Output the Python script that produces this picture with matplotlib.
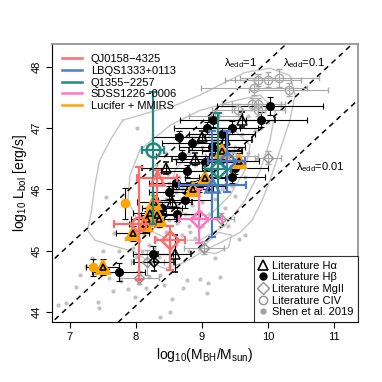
import matplotlib
matplotlib.use("Agg")
import matplotlib.pyplot as plt
import numpy as np
from matplotlib.lines import Line2D

plt.rcParams['font.family'] = ['Liberation Sans', 'DejaVu Sans']
plt.rcParams['mathtext.fontset'] = 'custom'
plt.rcParams['mathtext.rm'] = 'Liberation Sans'
plt.rcParams['mathtext.it'] = 'Liberation Sans:italic'

# ---- Shen et al. 2019 background sample ----
shen_x = [7.15, 6.95, 7.42, 7.65, 7.77, 7.88, 8.05, 8.15, 8.20, 8.36, 8.42, 7.98, 7.44, 8.36,
          8.77, 8.71, 8.55, 8.52, 8.97, 9.09, 9.27, 9.08, 9.56, 8.02, 7.55, 6.82, 7.33, 7.67,
          9.65, 9.20, 7.25, 7.10, 7.60, 7.50,
          7.95, 8.05, 8.10, 8.20, 8.30, 8.00, 8.10, 8.20, 8.35, 8.45, 8.50, 8.40, 8.30, 8.45,
          8.55, 8.60, 8.50, 8.65, 8.70, 8.75, 8.85, 8.90, 8.80, 8.70, 8.60, 8.90, 9.00, 9.10,
          9.00, 8.95, 9.10, 9.20, 9.30, 9.35, 9.20, 9.30, 9.10, 8.90, 8.80, 9.00, 9.20, 9.40,
          9.50, 9.60, 9.55, 9.65, 9.70, 9.80, 9.70, 9.90, 10.00, 9.60, 8.60, 8.40, 8.25, 7.85,
          7.75, 8.15, 8.00, 8.35, 8.55, 8.80, 9.40, 9.50, 9.85, 8.45, 8.30,
          8.12, 8.28, 8.38, 8.05, 7.92, 8.62, 8.48, 8.68, 8.95, 9.15, 9.25, 9.45, 9.05, 8.82]
shen_y = [44.60, 44.14, 44.16, 44.34, 44.50, 44.37, 44.47, 44.39, 44.57, 44.60, 44.44, 44.24,
          44.06, 43.91, 44.52, 44.39, 44.21, 44.00, 44.53, 44.47, 44.57, 44.31, 45.19, 47.01,
          45.87, 44.11, 44.88, 45.28, 45.25, 44.88, 44.75, 44.40, 44.55, 45.00,
          45.05, 45.15, 45.00, 45.10, 45.20, 45.35, 45.50, 45.30, 45.40, 45.30, 45.50, 45.60,
          45.75, 45.85, 45.70, 45.95, 46.10, 46.20, 46.00, 45.60, 45.75, 45.55, 45.40, 45.25,
          45.10, 45.20, 45.40, 45.60, 45.80, 46.10, 46.00, 45.85, 46.00, 45.70, 46.30, 46.50,
          46.50, 46.40, 46.60, 46.70, 46.80, 46.90, 46.70, 46.90, 46.40, 46.20, 46.60, 46.95,
          47.20, 47.00, 47.10, 47.30, 46.50, 46.10, 45.95, 45.20, 45.00, 45.70, 44.90, 44.90,
          44.85, 45.00, 45.40, 45.90, 46.50, 46.60, 46.40,
          45.25, 45.05, 45.55, 45.60, 45.45, 45.45, 46.25, 45.85, 45.95, 46.20, 45.55, 46.05,
          46.25, 45.30]

# density contours of the Shen sample
cont_outer_x = [7.80, 7.61, 7.45, 7.38, 7.33, 7.27, 7.38, 7.68, 7.98, 8.21, 8.44, 8.74, 9.05,
                9.35, 9.58, 9.76, 9.91, 10.03, 10.18, 10.33, 10.41, 10.33, 10.03, 9.65, 9.35,
                8.97, 8.59, 8.21, 7.80]
cont_outer_y = [47.13, 46.80, 46.47, 46.07, 45.66, 45.33, 45.17, 45.07, 44.98, 44.81, 44.71,
                44.81, 45.01, 45.17, 45.30, 45.50, 45.82, 46.15, 46.64, 47.13, 47.54, 47.86,
                47.98, 47.91, 47.75, 47.54, 47.37, 47.26, 47.13]
cont_mid_x = [8.06, 7.91, 7.88, 8.06, 8.52, 8.97, 9.35, 9.65, 9.88, 10.03, 10.11, 9.88, 9.50,
              8.97, 8.52, 8.06]
cont_mid_y = [46.64, 46.23, 45.82, 45.41, 45.17, 45.17, 45.41, 45.82, 46.31, 46.80, 47.29,
              47.54, 47.45, 47.29, 47.05, 46.64]
cont_in_x = [8.59, 8.52, 8.74, 9.12, 9.42, 9.65, 9.73, 9.50, 9.12, 8.82, 8.59]
cont_in_y = [46.31, 45.90, 45.58, 45.58, 45.90, 46.31, 46.72, 46.96, 46.88, 46.64, 46.31]
cont_low_x = [8.95, 9.20, 9.40, 9.45, 9.25, 8.95]
cont_low_y = [45.00, 44.95, 45.05, 45.25, 45.30, 45.00]

# ---- literature measurements: x, y, xerr, yerr ----
hb_x = [10.03, 9.17, 9.89, 9.08, 9.45, 8.65, 8.85, 9.15, 8.70, 9.50, 9.45, 9.05, 8.78, 8.60,
        8.74, 8.62, 8.50, 8.40, 8.26, 7.74, 9.30, 8.95]
hb_y = [47.36, 47.14, 47.14, 47.00, 47.01, 46.85, 46.75, 46.70, 46.55, 46.35, 46.20, 46.45,
        46.30, 46.10, 45.82, 45.60, 45.95, 45.70, 44.95, 44.65, 46.90, 46.05]
hb_xerr = [0.80, 0.50, 0.70, 0.50, 0.40, 0.40, 0.45, 0.50, 0.40, 0.50, 0.50, 0.45, 0.40, 0.40,
           0.40, 0.35, 0.30, 0.30, 0.30, 0.40, 0.50, 0.40]
hb_yerr = [0.15, 0.12, 0.12, 0.10, 0.10, 0.10, 0.10, 0.10, 0.10, 0.10, 0.10, 0.10, 0.10, 0.10,
           0.12, 0.12, 0.10, 0.10, 0.12, 0.15, 0.10, 0.10]

ha_x = [9.60, 9.20, 8.90, 8.45, 9.35, 8.80, 8.59, 8.55, 9.00]
ha_y = [47.14, 46.65, 46.50, 46.35, 46.80, 46.00, 44.95, 45.80, 46.85]
ha_xerr = [0.50, 0.40, 0.35, 0.35, 0.40, 0.30, 0.25, 0.30, 0.40]
ha_yerr = [0.12, 0.10, 0.10, 0.10, 0.10, 0.10, 0.30, 0.10, 0.10]

mg_black_x = [8.27]
mg_black_y = [44.81]
mg_x = [8.17, 10.00, 9.29, 9.03, 8.05]
mg_y = [44.81, 46.52, 45.51, 45.05, 44.56]
mg_xerr = [0.25, 0.20, 0.20, 0.30, 0.30]
mg_yerr = [0.20, 0.10, 0.10, 0.10, 0.10]

civ_x = [9.85, 10.00, 10.17, 9.79, 10.31, 9.55, 9.75, 9.85, 9.85, 9.20, 9.45]
civ_y = [47.79, 47.79, 47.82, 47.66, 47.63, 47.30, 47.40, 47.40, 47.30, 47.20, 46.55]
civ_xerr = [0.50, 0.50, 0.60, 0.80, 0.60, 0.40, 0.45, 0.40, 0.40, 0.40, 0.40]
civ_yerr = [0.10, 0.12, 0.15, 0.12, 0.10, 0.10, 0.10, 0.10, 0.10, 0.10, 0.10]

# ---- this work ----
qj_x = [8.32, 8.05, 8.52]
qj_y = [46.19, 45.44, 45.17]
qj_xlo = [0.30, 0.38, 0.23]
qj_xhi = [0.30, 0.24, 0.22]
qj_ylo = [0.38, 0.92, 0.49]
qj_yhi = [0.12, 0.92, 0.24]
qj_mk = ['^', 'o', 'D']

lb_x = [9.38, 9.15]
lb_y = [46.47, 46.08]
lb_xlo = [0.29, 0.50]
lb_xhi = [0.27, 0.52]
lb_ylo = [0.52, 0.86]
lb_yhi = [0.49, 0.88]
lb_mk = ['D', '^']

q13_x = [8.26, 9.24]
q13_y = [46.64, 46.34]
q13_xlo = [0.17, 0.20]
q13_xhi = [0.16, 0.20]
q13_ylo = [1.20, 0.81]
q13_yhi = [0.95, 0.90]
q13_mk = ['o', 'D']

sd_x = [8.95]
sd_y = [45.51]
sd_xlo = [0.30]
sd_xhi = [0.35]
sd_ylo = [0.38]
sd_yhi = [0.50]
sd_mk = ['D']

luc_c_x = [7.83, 7.35]
luc_c_y = [45.77, 44.73]
luc_c_yerr = [0.25, 0.14]
luc_t_x = [7.50, 7.95, 8.27, 8.21, 8.32, 8.17, 8.35, 8.14, 8.86, 9.05, 9.30, 9.56]
luc_t_y = [44.74, 45.28, 45.79, 45.61, 45.58, 45.52, 45.51, 45.43, 46.01, 46.19, 46.62, 46.47]
luc_t_xerr = [0.25, 0.25, 0.25, 0.25, 0.25, 0.25, 0.25, 0.25, 0.30, 0.30, 0.30, 0.30]
luc_t_yerr = [0.13, 0.12, 0.12, 0.12, 0.12, 0.12, 0.12, 0.12, 0.12, 0.12, 0.12, 0.12]

edd_ratios = [1, 0.1, 0.01]

c_qj = '#FF6B6B'
c_lb = '#4A7AC8'
c_q13 = '#23897D'
c_sd = '#FF77BE'
c_luc = '#FFA500'
c_gray = '#A8A8A8'

fig = plt.figure(figsize=(3.82, 3.82), dpi=100)
ax = fig.add_axes([0.136, 0.158, 0.801, 0.726])

# background sample
ax.plot(shen_x, shen_y, 'o', color='#C4C0C0', ms=3, mec='none', zorder=1)
for cx, cy in [(cont_outer_x, cont_outer_y), (cont_mid_x, cont_mid_y),
               (cont_in_x, cont_in_y), (cont_low_x, cont_low_y)]:
    ax.plot(cx, cy, '-', color='#C8C4C4', lw=1.0, zorder=1.5)

# Eddington ratio lines
xx = np.array([6.0, 12.0])
for lam in edd_ratios:
    ax.plot(xx, xx + 38.1 + np.log10(lam), color='black', ls=(0, (3.5, 3)), lw=1.1, zorder=2)

ek = dict(ls='none', capsize=2, elinewidth=0.8, capthick=0.8, zorder=3)
ax.errorbar(civ_x, civ_y, xerr=civ_xerr, yerr=civ_yerr, fmt='o', ms=6, mfc='none',
            mec=c_gray, mew=1.0, ecolor=c_gray, **ek)
ax.errorbar(mg_x, mg_y, xerr=mg_xerr, yerr=mg_yerr, fmt='D', ms=5.5, mfc='none',
            mec='#909090', mew=1.0, ecolor=c_gray, **ek)
ax.errorbar(hb_x, hb_y, xerr=hb_xerr, yerr=hb_yerr, fmt='o', ms=5.5, color='black',
            ecolor='black', **ek)
ax.errorbar(ha_x, ha_y, xerr=ha_xerr, yerr=ha_yerr, fmt='^', ms=7, mfc='none',
            mec='black', mew=1.1, ecolor='black', **ek)
ax.errorbar(mg_black_x, mg_black_y, xerr=[0.3], yerr=[0.15], fmt='D', ms=5.5, mfc='none',
            mec='black', mew=1.1, ecolor='black', **ek)

# Lucifer + MMIRS
ax.errorbar(luc_t_x, luc_t_y, xerr=luc_t_xerr, yerr=luc_t_yerr, fmt='none',
            ecolor='black', **ek)
ax.plot(luc_t_x, luc_t_y, '^', ms=9.5, mfc=c_luc, mec=c_luc, mew=1.5, zorder=4)
ax.plot(luc_t_x, luc_t_y, '^', ms=5, mfc='none', mec='black', mew=1.2, zorder=4.5)
ax.errorbar(luc_c_x, luc_c_y, yerr=luc_c_yerr, fmt='none', ecolor='black', **ek)
ax.plot(luc_c_x, luc_c_y, 'o', ms=7, color=c_luc, mec='none', zorder=4)

# individual lensed quasars
groups = [(qj_x, qj_y, qj_xlo, qj_xhi, qj_ylo, qj_yhi, qj_mk, c_qj),
          (lb_x, lb_y, lb_xlo, lb_xhi, lb_ylo, lb_yhi, lb_mk, c_lb),
          (q13_x, q13_y, q13_xlo, q13_xhi, q13_ylo, q13_yhi, q13_mk, c_q13),
          (sd_x, sd_y, sd_xlo, sd_xhi, sd_ylo, sd_yhi, sd_mk, c_sd)]
for gx, gy, xlo, xhi, ylo, yhi, mks, col in groups:
    for i in range(len(gx)):
        ax.errorbar([gx[i]], [gy[i]], xerr=[[xlo[i]], [xhi[i]]], yerr=[[ylo[i]], [yhi[i]]],
                    fmt='none', ecolor=col, elinewidth=1.6, capsize=3, capthick=1.6, zorder=5)
        ms = 9 if mks[i] == 'D' else 10
        ax.plot(gx[i], gy[i], mks[i], ms=ms, mfc='none', mec=col, mew=1.8, zorder=5.5)

ax.text(9.58, 48.07, r'λ$_{\rm edd}$=1', ha='center', va='center', fontsize=8)
ax.text(10.55, 48.07, r'λ$_{\rm edd}$=0.1', ha='center', va='center', fontsize=8)
ax.text(10.79, 46.36, r'λ$_{\rm edd}$=0.01', ha='center', va='center', fontsize=8)

ax.set_xlim(6.73, 11.36)
ax.set_ylim(43.84, 48.37)
ax.set_xticks([7, 8, 9, 10, 11])
ax.set_yticks([44, 45, 46, 47, 48])
ax.tick_params(direction='out', length=4.5, width=0.8, labelsize=8, pad=3)
for lab in ax.get_yticklabels():
    lab.set_rotation(90)
    lab.set_va('center')
for s in ['left', 'bottom']:
    ax.spines[s].set_color('black')
for s in ['top', 'right']:
    ax.spines[s].set_color('#8C8C8C')
    ax.spines[s].set_linewidth(1.2)

ax.set_xlabel(r'log$_{10}$(M$_{\rm BH}$/M$_{\rm sun}$)', fontsize=10, labelpad=3)
ax.set_ylabel(r'log$_{10}$ L$_{\rm bol}$ [erg/s]', fontsize=10, labelpad=2)

h1 = [Line2D([], [], color=c, lw=1.8) for c in [c_qj, c_lb, c_q13, c_sd, c_luc]]
l1 = ['QJ0158\u22124325', 'LBQS1333+0113', 'Q1355\u22122257', 'SDSS1226\u22120006',
      'Lucifer + MMIRS']
leg1 = ax.legend(h1, l1, loc='upper left', frameon=False, fontsize=8, handlelength=1.8,
                 handletextpad=0.8, labelspacing=0.15, borderaxespad=0.5)
ax.add_artist(leg1)

h2 = [Line2D([], [], ls='none', marker='^', ms=7, mfc='none', mec='black', mew=1.2),
      Line2D([], [], ls='none', marker='o', ms=5, color='black'),
      Line2D([], [], ls='none', marker='D', ms=6, mfc='none', mec='#909090', mew=1.0),
      Line2D([], [], ls='none', marker='o', ms=6, mfc='none', mec='#909090', mew=1.0),
      Line2D([], [], ls='none', marker='o', ms=3.5, color='#A0A0A0')]
l2 = ['Literature H\u03b1', 'Literature H\u03b2', 'Literature MgII', 'Literature CIV',
      'Shen et al. 2019']
leg2 = ax.legend(h2, l2, loc='lower right', frameon=True, fancybox=False, fontsize=8,
                 handlelength=0.8, handletextpad=0.4, labelspacing=0.15, borderaxespad=0,
                 borderpad=0.4)
leg2.get_frame().set_edgecolor('black')
leg2.get_frame().set_linewidth(0.8)

fig.savefig('out.png', dpi=100)
